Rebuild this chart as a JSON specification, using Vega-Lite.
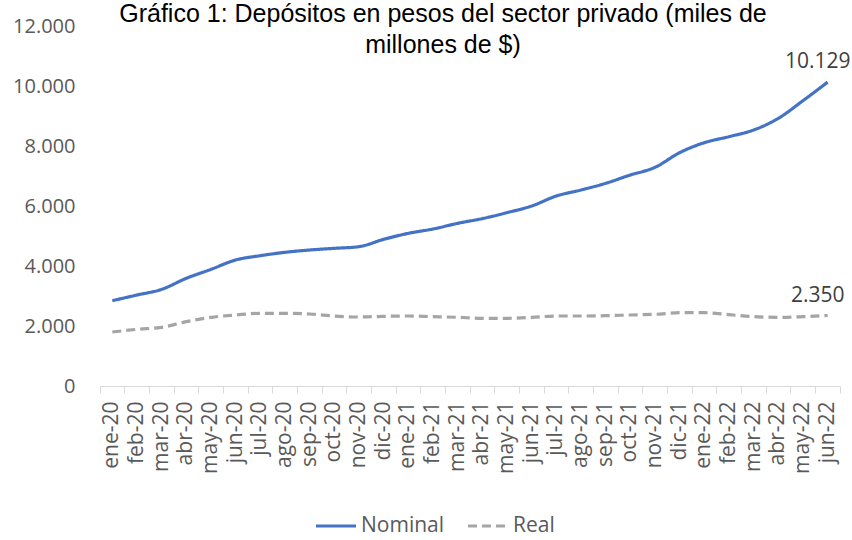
{
  "$schema": "https://vega.github.io/schema/vega-lite/v6.json",
  "width": 740,
  "height": 360,
  "autosize": {"type": "none"},
  "padding": {"left": 100, "top": 26, "right": 12, "bottom": 154},
  "background": "white",
  "title": {
    "text": ["Gráfico 1: Depósitos en pesos del sector privado (miles de", "millones de $)"],
    "font": "Liberation Sans",
    "fontSize": 25,
    "fontWeight": "normal",
    "color": "#000000",
    "anchor": "middle",
    "frame": "group",
    "baseline": "alphabetic",
    "lineHeight": 31,
    "offset": -29,
    "dx": -27,
    "dy": 33
  },
  "data": {
    "values": [
      {"mes": "ene-20", "Nominal": 2843, "Real": 1800},
      {"mes": "feb-20", "Nominal": 3033, "Real": 1889},
      {"mes": "mar-20", "Nominal": 3222, "Real": 1956},
      {"mes": "abr-20", "Nominal": 3590, "Real": 2144},
      {"mes": "may-20", "Nominal": 3889, "Real": 2289},
      {"mes": "jun-20", "Nominal": 4200, "Real": 2367},
      {"mes": "jul-20", "Nominal": 4344, "Real": 2422},
      {"mes": "ago-20", "Nominal": 4456, "Real": 2422},
      {"mes": "sep-20", "Nominal": 4533, "Real": 2400},
      {"mes": "oct-20", "Nominal": 4589, "Real": 2333},
      {"mes": "nov-20", "Nominal": 4644, "Real": 2300},
      {"mes": "dic-20", "Nominal": 4889, "Real": 2322},
      {"mes": "ene-21", "Nominal": 5089, "Real": 2333},
      {"mes": "feb-21", "Nominal": 5233, "Real": 2311},
      {"mes": "mar-21", "Nominal": 5422, "Real": 2289},
      {"mes": "abr-21", "Nominal": 5580, "Real": 2256},
      {"mes": "may-21", "Nominal": 5778, "Real": 2256},
      {"mes": "jun-21", "Nominal": 6000, "Real": 2289},
      {"mes": "jul-21", "Nominal": 6333, "Real": 2333},
      {"mes": "ago-21", "Nominal": 6533, "Real": 2333},
      {"mes": "sep-21", "Nominal": 6756, "Real": 2344},
      {"mes": "oct-21", "Nominal": 7033, "Real": 2367},
      {"mes": "nov-21", "Nominal": 7289, "Real": 2389},
      {"mes": "dic-21", "Nominal": 7778, "Real": 2444},
      {"mes": "ene-22", "Nominal": 8111, "Real": 2444},
      {"mes": "feb-22", "Nominal": 8311, "Real": 2378},
      {"mes": "mar-22", "Nominal": 8533, "Real": 2311},
      {"mes": "abr-22", "Nominal": 8922, "Real": 2289},
      {"mes": "may-22", "Nominal": 9511, "Real": 2311},
      {"mes": "jun-22", "Nominal": 10129, "Real": 2350}
    ]
  },
  "transform": [
    {"fold": ["Nominal", "Real"], "as": ["serie", "valor"]}
  ],
  "encoding": {
    "x": {
      "field": "mes",
      "type": "ordinal",
      "sort": ["ene-20","feb-20","mar-20","abr-20","may-20","jun-20","jul-20","ago-20","sep-20","oct-20","nov-20","dic-20","ene-21","feb-21","mar-21","abr-21","may-21","jun-21","jul-21","ago-21","sep-21","oct-21","nov-21","dic-21","ene-22","feb-22","mar-22","abr-22","may-22","jun-22"],
      "scale": {"type": "band", "paddingInner": 0, "paddingOuter": 0},
      "axis": {
        "title": null,
        "labelAngle": -90,
        "labelAlign": "right",
        "labelBaseline": "middle",
        "labelFont": "Open Sans",
        "labelFontSize": 21,
        "labelColor": "#595959",
        "labelPadding": 8,
        "domainColor": "#d9d9d9",
        "domainWidth": 1,
        "tickColor": "#d9d9d9",
        "tickSize": 7,
        "bandPosition": 1,
        "tickExtra": true,
        "grid": false
      }
    },
    "y": {
      "field": "valor",
      "type": "quantitative",
      "scale": {"domain": [0, 12000], "nice": false},
      "axis": {
        "title": null,
        "values": [0, 2000, 4000, 6000, 8000, 10000, 12000],
        "format": ",.0f",
        "domain": false,
        "ticks": false,
        "grid": false,
        "labelFont": "Open Sans",
        "labelFontSize": 20,
        "labelColor": "#595959",
        "labelPadding": 25
      }
    }
  },
  "layer": [
    {
      "mark": {"type": "line", "strokeWidth": 3.2, "interpolate": "monotone"},
      "encoding": {
        "color": {
          "field": "serie",
          "type": "nominal",
          "scale": {"domain": ["Nominal", "Real"], "range": ["#4472C4", "#A5A5A5"]},
          "legend": {
            "title": null,
            "orient": "none",
            "direction": "horizontal",
            "legendX": 214,
            "legendY": 478,
            "symbolType": "stroke",
            "symbolSize": 1600,
            "symbolStrokeWidth": 3.2,
            "labelFont": "Open Sans",
            "labelFontSize": 21,
            "labelColor": "#595959",
            "labelOffset": 3,
            "columnPadding": 16
          }
        },
        "strokeDash": {
          "field": "serie",
          "type": "nominal",
          "scale": {"domain": ["Nominal", "Real"], "range": [[1, 0], [9, 5]]},
          "legend": {
            "title": null,
            "orient": "none",
            "direction": "horizontal",
            "legendX": 214,
            "legendY": 478,
            "symbolType": "stroke",
            "symbolSize": 1600,
            "symbolStrokeWidth": 3.2,
            "labelFont": "Open Sans",
            "labelFontSize": 21,
            "labelColor": "#595959",
            "labelOffset": 3,
            "columnPadding": 16
          }
        }
      }
    },
    {
      "transform": [{"filter": "datum.mes === 'jun-22'"}],
      "mark": {
        "type": "text",
        "font": "Open Sans",
        "fontSize": 21,
        "color": "#404040",
        "align": "center",
        "baseline": "middle",
        "dx": -10,
        "dy": -20
      },
      "encoding": {
        "text": {"field": "valor", "type": "quantitative", "format": ",.0f"}
      }
    }
  ],
  "config": {
    "view": {"stroke": null},
    "locale": {
      "number": {"decimal": ",", "thousands": ".", "grouping": [3], "currency": ["$", ""]}
    }
  }
}
